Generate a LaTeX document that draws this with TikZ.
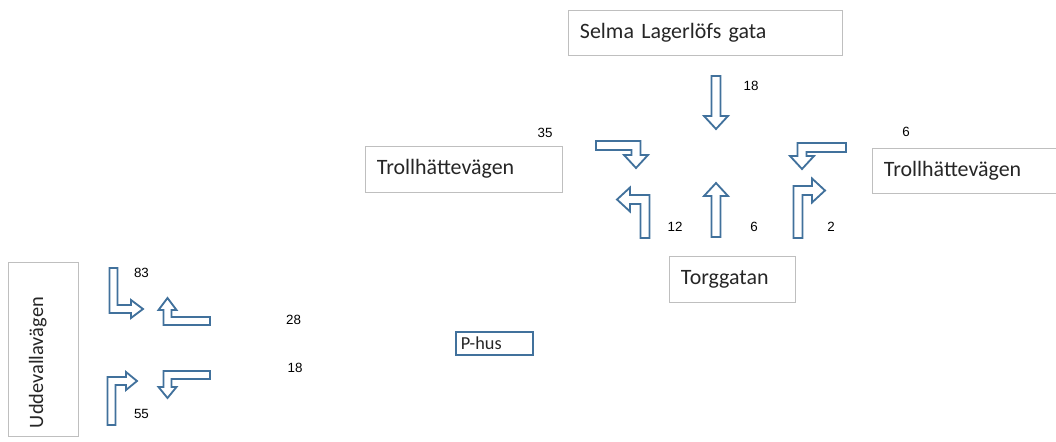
\documentclass[tikz,border=0pt]{standalone}
\usepackage{fontspec}
\setmainfont{Carlito}
\newfontfamily\numfont{Liberation Sans}
\definecolor{arrowblue}{RGB}{65,113,156}
\definecolor{boxgray}{RGB}{191,191,191}

\begin{document}
\begin{tikzpicture}[x=.025cm,y=-.025cm,
  road/.style={draw=boxgray,line width=.6pt,fill=white,font=\fontsize{15.6}{17}\selectfont,text=black!85,align=left,inner ysep=0pt,inner xsep=.3cm},
  count/.style={font=\numfont\fontsize{9.5}{10}\selectfont,inner sep=0pt},
  turn/.style={draw=arrowblue,line width=1.3pt,line join=miter,fill=white}]
\useasboundingbox (0,0) rectangle (1056,441);
% roads
\node[road,text width=6.25cm,minimum height=1.125cm] (selma) at (705,32.5) {Selma Lagerlöfs gata};
\node[road,text width=4.325cm,minimum height=1.15cm] (trollwest) at (463.5,169) {Trollhättevägen};
\node[road,text width=4.15cm,minimum height=1.125cm] (trolleast) at (967,170.5) {Trollhättevägen};
\node[road,text width=2.55cm,minimum height=1.15cm] (torg) at (732,279) {Torggatan};
\node[road,rotate=90,font=\fontsize{14.5}{15}\selectfont,inner xsep=.2cm,text width=3.95cm,text depth=.35cm,minimum height=1.75cm] (udde) at (43,349) {Uddevallavägen};
\node[road,draw=arrowblue,line width=1.4pt,font=\fontsize{13}{14}\selectfont,inner xsep=.12cm,text width=1.685cm,minimum height=.575cm] (phus) at (494.5,343.5) {P-hus};
% turning arrows, upper crossing
\draw[turn] (711.5,76) -- (720.5,76) -- (720.5,116) -- (728,116) -- (716,129) -- (704,116) -- (711.5,116) -- cycle;
\draw[turn] (711.5,237) -- (711.5,196) -- (704,196) -- (716,183) -- (728,196) -- (720.5,196) -- (720.5,237) -- cycle;
\draw[turn] (596,141) -- (640.5,141) -- (640.5,155) -- (648,155) -- (636,168) -- (624,155) -- (631.5,155) -- (631.5,150) -- (596,150) -- cycle;
\draw[turn] (640.5,238) -- (640.5,204) -- (630,204) -- (630,211.5) -- (617,199.5) -- (630,187.5) -- (630,195) -- (649.5,195) -- (649.5,238) -- cycle;
\draw[turn] (846,143) -- (797.5,143) -- (797.5,156) -- (790,156) -- (802,169) -- (814,156) -- (806.5,156) -- (806.5,152) -- (846,152) -- cycle;
\draw[turn] (793.5,238) -- (793.5,186) -- (812,186) -- (812,178.5) -- (825,190.5) -- (812,202.5) -- (812,195) -- (802.5,195) -- (802.5,238) -- cycle;
% turning arrows, Uddevallavägen
\draw[turn] (109.5,268) -- (117.5,268) -- (117.5,305) -- (131,305) -- (131,300) -- (143,309) -- (131,318) -- (131,313) -- (109.5,313) -- cycle;
\draw[turn] (210,325) -- (163.5,325) -- (163.5,310) -- (158.5,310) -- (167.5,298) -- (176.5,310) -- (171.5,310) -- (171.5,317) -- (210,317) -- cycle;
\draw[turn] (210,371) -- (163.5,371) -- (163.5,387) -- (158.5,387) -- (167.5,398) -- (176.5,387) -- (171.5,387) -- (171.5,379) -- (210,379) -- cycle;
\draw[turn] (107.5,425) -- (107.5,377) -- (126,377) -- (126,372) -- (137,381) -- (126,390) -- (126,385) -- (115.5,385) -- (115.5,425) -- cycle;
% counts
\node[count] (selmaleft) at (751,86) {18};
\node[count] (westin) at (545,133) {35};
\node[count] (eastin) at (906,132) {6};
\node[count] (torgleft) at (675,227) {12};
\node[count] (torgstraight) at (754,227) {6};
\node[count] (torgright) at (831,227) {2};
\node[count] (uddenorth) at (141.5,273) {83};
\node[count] (phusup) at (293.5,320) {28};
\node[count] (phusdown) at (295,368) {18};
\node[count] (uddesouth) at (141.5,414) {55};
\end{tikzpicture}
\end{document}
